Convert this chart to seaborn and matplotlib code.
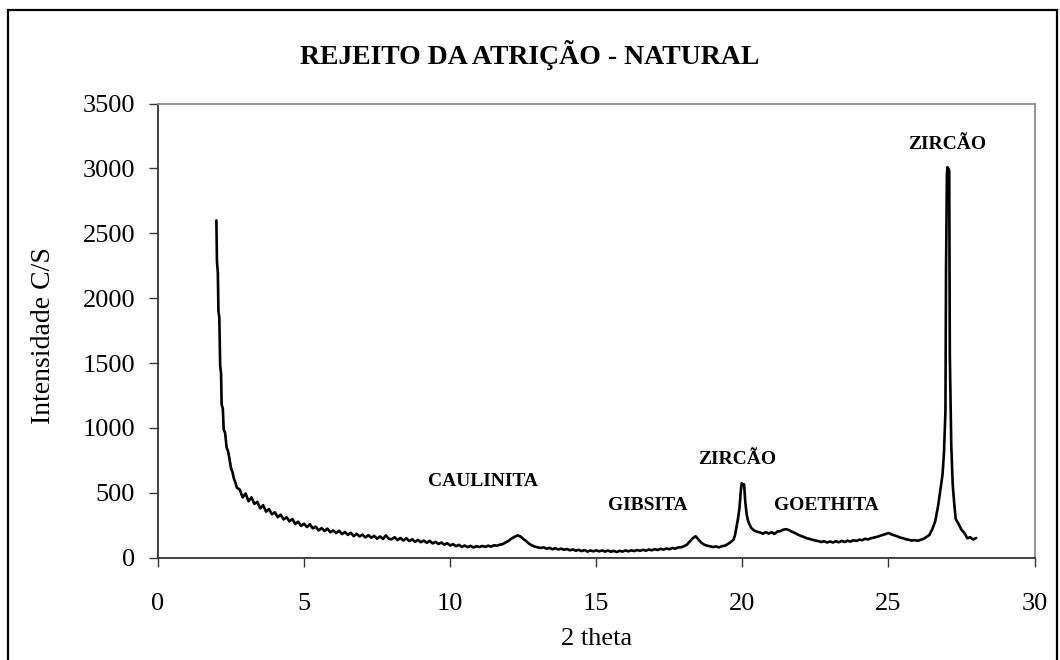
import matplotlib
matplotlib.use("Agg")
import matplotlib.pyplot as plt
import seaborn as sns
import pandas as pd
from matplotlib.patches import Rectangle

# XRD pattern
two_theta = [
    2.00, 2.02, 2.05, 2.07, 2.10, 2.13, 2.16, 2.18, 2.22, 2.25, 2.30, 2.35, 2.40, 2.45, 2.50,
    2.55, 2.60, 2.65, 2.70, 2.80, 2.90, 3.00, 3.10, 3.20, 3.30, 3.40, 3.50, 3.60, 3.70, 3.80,
    3.90, 4.00, 4.10, 4.20, 4.30, 4.40, 4.50, 4.60, 4.70, 4.80, 4.90, 5.00,
    5.1, 5.2, 5.3, 5.4, 5.5, 5.6, 5.7, 5.8, 5.9, 6.0, 6.1, 6.2, 6.3, 6.4, 6.5, 6.6, 6.7, 6.8,
    6.9, 7.0, 7.1, 7.2, 7.3, 7.4, 7.5, 7.6, 7.7, 7.8, 7.9, 8.0, 8.1, 8.2, 8.3, 8.4, 8.5, 8.6,
    8.7, 8.8, 8.9, 9.0, 9.1, 9.2, 9.3, 9.4, 9.5, 9.6, 9.7, 9.8, 9.9, 10.0,
    10.1, 10.2, 10.3, 10.4, 10.5, 10.6, 10.7, 10.8, 10.9, 11.0, 11.1, 11.2, 11.3, 11.4, 11.5,
    11.6, 11.7, 11.8, 11.9, 12.0, 12.1, 12.2, 12.3, 12.4, 12.5, 12.6, 12.7, 12.8, 12.9, 13.0,
    13.1, 13.2, 13.3, 13.4, 13.5, 13.6, 13.7, 13.8, 13.9, 14.0, 14.1, 14.2, 14.3, 14.4, 14.5,
    14.6, 14.7, 14.8, 14.9, 15.0, 15.1, 15.2, 15.3, 15.4, 15.5, 15.6, 15.7, 15.8, 15.9, 16.0,
    16.1, 16.2, 16.3, 16.4, 16.5, 16.6, 16.7, 16.8, 16.9, 17.0, 17.1, 17.2, 17.3, 17.4, 17.5,
    17.6, 17.7, 17.8, 17.9, 18.0, 18.1, 18.2, 18.3, 18.4, 18.5, 18.6, 18.7, 18.8, 18.9, 19.0,
    19.1, 19.2, 19.3, 19.4, 19.5, 19.6, 19.7, 19.75, 19.8, 19.85, 19.9, 19.95, 19.98, 20.03,
    20.06, 20.1, 20.15, 20.2, 20.3, 20.4, 20.5, 20.6, 20.7, 20.8, 20.9, 21.0, 21.1, 21.2, 21.3,
    21.4, 21.5, 21.6, 21.7, 21.8, 21.9, 22.0, 22.1, 22.2, 22.3, 22.4, 22.5, 22.6, 22.7, 22.8,
    22.9, 23.0, 23.1, 23.2, 23.3, 23.4, 23.5, 23.6, 23.7, 23.8, 23.9, 24.0, 24.1, 24.2, 24.3,
    24.4, 24.5, 24.6, 24.7, 24.8, 24.9, 25.0, 25.1, 25.2, 25.3, 25.4, 25.5, 25.6, 25.7, 25.8,
    25.9, 26.0, 26.1, 26.2, 26.3, 26.4, 26.5, 26.6, 26.7, 26.8, 26.85, 26.9, 26.95, 26.97,
    27.0, 27.02, 27.05, 27.08, 27.10, 27.15, 27.2, 27.25, 27.3, 27.4, 27.5, 27.6, 27.7, 27.8,
    27.9, 28.0,
]
counts = [
    2600, 2280, 2200, 1900, 1850, 1480, 1420, 1180, 1150, 990, 960, 850, 820, 760, 690,
    660, 610, 580, 540, 525, 465, 495, 435, 465, 415, 430, 380, 405, 355, 375,
    335, 350, 312, 332, 295, 312, 280, 298, 260, 278, 245, 262,
    236, 258, 226, 240, 210, 228, 206, 224, 196, 210, 190, 208, 182, 198, 176, 192, 166, 184,
    164, 178, 156, 174, 154, 168, 146, 164, 144, 172, 146, 142, 158, 136, 152, 132, 150, 128,
    142, 122, 137, 120, 132, 115, 130, 110, 122, 106, 117, 100, 112, 94,
    104, 89, 99, 84, 94, 81, 91, 79, 89, 82, 91, 83, 93, 85, 96,
    92, 100, 105, 118, 130, 148, 160, 172, 165, 145, 128, 108, 95, 85, 80,
    75, 80, 69, 76, 65, 73, 63, 70, 61, 67, 57, 64, 54, 61, 51,
    59, 47, 56, 49, 57, 49, 56, 47, 55, 46, 53, 44, 53, 47, 56,
    49, 57, 51, 59, 53, 61, 54, 63, 57, 66, 59, 69, 62, 71, 65,
    75, 69, 79, 80, 88, 100, 125, 150, 165, 140, 115, 100, 92, 88, 82,
    87, 79, 89, 92, 105, 120, 140, 175, 240, 300, 380, 520, 575, 560,
    565, 430, 330, 280, 230, 210, 200, 195, 185, 197, 186, 197, 183, 202, 204,
    216, 220, 212, 200, 190, 178, 168, 160, 150, 145, 138, 132, 128, 121, 127,
    117, 125, 117, 127, 119, 129, 121, 131, 124, 135, 129, 139, 135, 146, 141,
    150, 155, 160, 168, 175, 182, 190, 180, 172, 165, 155, 150, 142, 138, 132,
    136, 130, 138, 145, 160, 175, 220, 280, 400, 560, 640, 810, 1130, 2200,
    2950, 3010, 3000, 2980, 1560, 860, 560, 420, 300, 260, 215, 190, 150, 158,
    140, 152,
]

peak_names = ["CAULINITA", "GIBSITA", "ZIRCÃO", "GOETHITA", "ZIRCÃO"]
peak_label_x = [11.14, 16.77, 19.82, 22.89, 27.02]
peak_label_y = [586, 401, 756, 401, 3184]

x_ticks = [0, 5, 10, 15, 20, 25, 30]
y_ticks = [0, 500, 1000, 1500, 2000, 2500, 3000, 3500]

df = pd.DataFrame({"two_theta": two_theta, "counts": counts})

sns.set_style("white")
plt.rcParams["font.family"] = ["Liberation Serif", "DejaVu Serif"]
plt.rcParams["text.color"] = "black"
plt.rcParams["axes.labelcolor"] = "black"

fig = plt.figure(figsize=(10.6, 6.6), dpi=100)
ax = fig.add_axes([0.149, 0.155, 0.827, 0.688])

sns.lineplot(data=df, x="two_theta", y="counts", color="black", linewidth=1.9,
             estimator=None, ax=ax)

for name, px, py in zip(peak_names, peak_label_x, peak_label_y):
    ax.text(px, py, name, ha="center", va="center", fontsize=14, fontweight="bold",
            color="black")

ax.set_xlim(0, 30)
ax.set_ylim(0, 3500)
ax.set_xticks(x_ticks)
ax.set_yticks(y_ticks)
ax.tick_params(axis="both", direction="out", length=6.5, width=1, colors="#333333",
               labelcolor="black", labelsize=19)
ax.tick_params(axis="x", pad=19, bottom=True)
ax.tick_params(axis="y", pad=10, left=True)

ax.set_xlabel("2 theta", fontsize=19, color="black")
ax.set_ylabel("Intensidade C/S", fontsize=20, color="black")
ax.xaxis.set_label_coords(0.5, -0.155)
ax.yaxis.set_label_coords(-0.116, 0.49)

for side in ["left", "bottom"]:
    ax.spines[side].set_color("#333333")
    ax.spines[side].set_linewidth(1.3)
for side in ["top", "right"]:
    ax.spines[side].set_color("#8c8c8c")
    ax.spines[side].set_linewidth(1.3)

fig.text(0.5, 0.917, "REJEITO DA ATRIÇÃO - NATURAL", ha="center", va="center",
         fontsize=20, fontweight="bold", color="black")

# outer chart frame
fig.patches.append(Rectangle((0.008, -0.05), 0.989, 1.035, transform=fig.transFigure,
                             fill=False, edgecolor="black", linewidth=1.6))

fig.savefig("out.png", dpi=100)
